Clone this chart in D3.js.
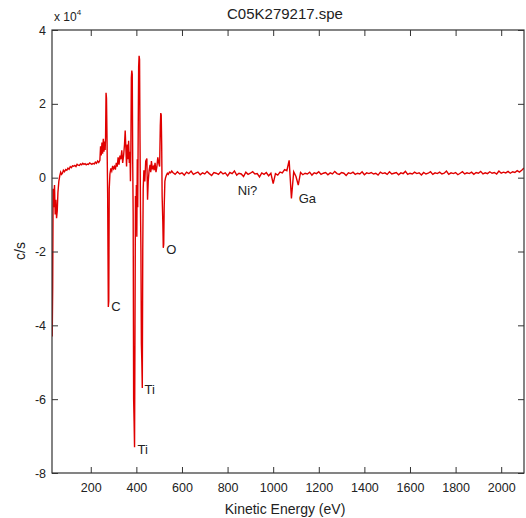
<!DOCTYPE html>
<html>
<head>
<meta charset="utf-8">
<script src="https://cdn.jsdelivr.net/npm/d3@7"></script>
<style>
  body { margin: 0; background: #fff; }
  svg text { font-family: "Liberation Sans", Arial, sans-serif; fill: #222; }
</style>
</head>
<body>
<svg class="main"></svg>
<script>
// detailed low energy part (eV, c/s)
const lowEnergy = [30, 31, 33, 35, 38, 41, 44, 47, 50, 53, 56, 60, 64, 68, 72, 76, 80, 85, 90, 95,
  100, 105, 110, 115, 120, 125, 130, 135, 140, 145, 150, 155, 160, 165, 170, 175, 180, 185, 190, 195,
  200, 205, 210, 215, 220, 225, 230, 235, 240, 243, 246, 249, 252, 255, 258, 261, 263, 265, 267, 269,
  271, 274, 277, 279, 281, 284, 288, 292, 296, 300, 304, 308, 312, 316, 320, 324, 328, 332, 336, 340,
  344, 348, 351, 354, 357, 360, 363, 366, 369, 372, 374, 376, 378, 380, 382, 384, 386, 388, 390, 392,
  394, 396, 398, 400, 402, 404, 406, 408, 410, 412, 414, 416, 418, 420, 422, 424, 426, 428, 430, 433,
  437, 441, 446, 449, 452, 456, 460, 463, 466, 470, 474, 478, 482, 486, 490, 494, 498, 502, 505, 507,
  509, 511, 513, 516, 518, 520, 522, 525, 528, 532, 536, 540, 545, 550, 555];
const lowCounts = [-20000, -43000, -30000, -3000, -8000, -2000, -10000, -6000, -11000, -9000, -4000, -1000, 500, 1500, 900, 1200, 2000, 1600, 2200, 2000,
  2600, 2300, 3000, 2700, 3200, 3100, 3300, 3000, 3600, 3400, 3300, 3700, 3500, 3900, 3600, 3800, 3500, 3700, 3600, 4000,
  3800, 3600, 3900, 3700, 4200, 3900, 4500, 4100, 4700, 8500, 6000, 9500, 6500, 10500, 7000, 9800, 7500, 11000, 23000, 21500,
  12000, -4000, -35000, -33500, -3000, 1000, 2500, 1800, 3200, 2400, 3000, 2200, 4000, 3000, 5500, 3500, 6000, 5000, 7400, 4000,
  6000, 9000, 12800, 8000, 3000, 9000, 5000, 10000, 4000, 7000, -1000, 8000, 27000, 29000, 28000, 4000, -10000, -60000, -66000, -73000,
  -40000, -5000, -14000, -2000, -16000, 5000, -8000, 12000, 30000, 33000, 32000, 10000, -8000, -20000, -45000, -50000, -57000, -20000, -3000, 2000,
  -1000, 4500, 5200, -6000, -1000, 2000, 3500, 1500, 4500, 2500, 3000, 2000, 4000, 1500, 3000, 5500, 4000, 3000, 14000, 17500,
  17000, 9000, -5000, -12000, -19000, -18000, -8000, -1000, 0, 700, 1200, 900, 1500, 1300, 1800];

// flat part from 560 eV in 10 eV steps (c/s)
const flatStart = 560;
const flatStep = 10;
const flatCounts = [1400, 900, 1600, 1000, 1300, 700, 1500, 1100, 1800, 900,
  1200, 1500, 800, 1300, 1000, 1700, 1100, 600, 1400, 1200,
  900, 1600, 1000, 1300, 500, 1400, 1100, 1800, 700, 1200,
  1000, 300, 1500, 900, 1200, 1600, 1000, 1100, 200, 1300,
  900, 1400, 500, 1200, -1600, 1100, 700, 1500, 1300, 2200,
  1900, 4700, -5600, 1600, 300, -2000, 1400, 800,
  1200, 1000, 1500, 700, 1300, 1100, 1600, 900, 1200, 1400,
  800, 1300, 1000, 1700, 1100, 900, 1400, 1200, 600, 1300,
  1100, 1500, 900, 1200, 1000, 1600, 800, 1300, 1100, 1400,
  1000, 1200, 700, 1500, 1100, 1300, 900, 1600, 1000, 1200,
  1400, 800, 1300, 1100, 1700, 900, 1200, 1000, 1500, 1100,
  1300, 700, 1400, 1000, 1200, 1600, 900, 1300, 1100, 1500,
  1000, 1200, 1800, 900, 1300, 1100, 1400, 800, 1200, 1600,
  1000, 1300, 1100, 1500, 900, 1400, 1200, 1700, 1000, 1300,
  1100, 1600, 1200, 1400, 1000, 1800, 1200, 1500, 1300, 1700,
  1200, 1600, 1400, 1900, 1500, 2000, 2600];

const xTicks = [200, 400, 600, 800, 1000, 1200, 1400, 1600, 1800, 2000];
const yTicks = [-80000, -60000, -40000, -20000, 0, 20000, 40000];

// peak labels: energy, c/s at the anchor, text
const peakNames = ["C", "Ti", "Ti", "O", "Ni?", "Ga"];
const peakEnergy = [290, 405, 436, 531, 845, 1112];
const peakCounts = [-35000, -73500, -57500, -19500, -3400, -5600];

const width = 526;
const height = 518;
const mLeft = 52, mRight = 524, mTop = 30, mBottom = 473;

const svg = d3.select("svg.main")
    .attr("width", width)
    .attr("height", height);

const x = d3.scaleLinear().domain([30, 2100]).range([mLeft, mRight]);
const y = d3.scaleLinear().domain([-80000, 40000]).range([mBottom, mTop]);

let points = lowEnergy.map((e, i) => [e, lowCounts[i]]);
flatCounts.forEach((c, i) => points.push([flatStart + i * flatStep, c]));

svg.append("clipPath").attr("id", "plotclip")
  .append("rect")
    .attr("x", mLeft).attr("y", mTop)
    .attr("width", mRight - mLeft).attr("height", mBottom - mTop);

svg.append("path")
    .datum(points)
    .attr("clip-path", "url(#plotclip)")
    .attr("fill", "none")
    .attr("stroke", "#e00000")
    .attr("stroke-width", 1.4)
    .attr("d", d3.line().x(d => x(d[0])).y(d => y(d[1])));

// axes with inward ticks
const styleAxis = g => {
    g.select(".domain").remove();
    g.selectAll(".tick line").attr("stroke", "#333");
    g.selectAll("text").attr("font-size", 12.5).attr("fill", "#222")
      .attr("font-family", "'Liberation Sans', Arial, sans-serif");
};

svg.append("g")
    .attr("transform", `translate(0,${mBottom})`)
    .call(d3.axisBottom(x).tickValues(xTicks).tickSize(-6).tickPadding(10).tickFormat(d => d))
    .call(styleAxis);
svg.append("g")
    .attr("transform", `translate(0,${mTop})`)
    .call(d3.axisTop(x).tickValues(xTicks).tickSize(-6).tickFormat(""))
    .call(styleAxis);
svg.append("g")
    .attr("transform", `translate(${mLeft},0)`)
    .call(d3.axisLeft(y).tickValues(yTicks).tickSize(-6).tickPadding(6).tickFormat(d => d / 10000))
    .call(styleAxis);
svg.append("g")
    .attr("transform", `translate(${mRight},0)`)
    .call(d3.axisRight(y).tickValues(yTicks).tickSize(-6).tickFormat(""))
    .call(styleAxis);

svg.append("rect")
    .attr("x", mLeft).attr("y", mTop)
    .attr("width", mRight - mLeft).attr("height", mBottom - mTop)
    .attr("fill", "none")
    .attr("stroke", "#333")
    .attr("stroke-width", 1.2);

// labels
svg.append("text")
    .attr("x", (mLeft + mRight) / 2 - 3)
    .attr("y", 19)
    .attr("text-anchor", "middle")
    .attr("font-size", 15)
    .text("C05K279217.spe");

const expo = svg.append("text").attr("x", 54).attr("y", 21).attr("font-size", 12);
expo.append("tspan").text("x 10");
expo.append("tspan").attr("dy", -6).attr("font-size", 8).text("4");

svg.append("text")
    .attr("x", (mLeft + mRight) / 2 - 3)
    .attr("y", 514)
    .attr("text-anchor", "middle")
    .attr("font-size", 14)
    .text("Kinetic Energy (eV)");

svg.append("text")
    .attr("transform", "translate(25,251) rotate(-90)")
    .attr("text-anchor", "middle")
    .attr("font-size", 14)
    .text("c/s");

svg.selectAll("text.peak")
  .data(peakNames)
  .join("text")
    .attr("class", "peak")
    .attr("x", (d, i) => x(peakEnergy[i]))
    .attr("y", (d, i) => y(peakCounts[i]))
    .attr("dy", "0.35em")
    .attr("font-size", 13)
    .text(d => d);
</script>
</body>
</html>
